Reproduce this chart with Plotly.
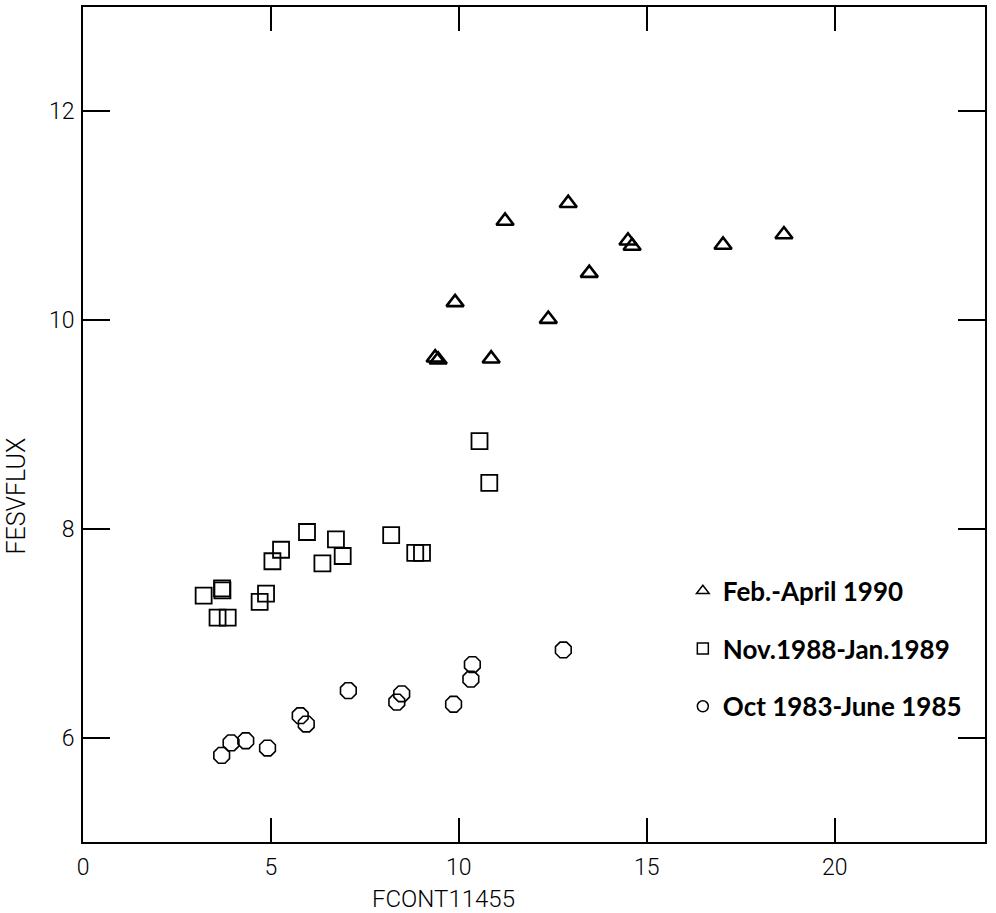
import plotly.graph_objects as go

# Feb.-April 1990 (triangles)
tri_x = [12.91, 11.23, 14.50, 14.61, 17.03, 18.65, 13.47, 9.90, 12.38, 9.37, 9.45, 10.86]
tri_y = [11.12, 10.95, 10.76, 10.71, 10.72, 10.82, 10.45, 10.17, 10.01, 9.64, 9.62, 9.63]

# Nov.1988-Jan.1989 (squares)
sq_x = [5.96, 6.73, 8.20, 5.27, 5.04, 6.91, 6.37, 8.84, 9.02, 3.21, 3.70, 3.71,
        4.87, 4.70, 3.58, 3.85, 10.55, 10.81]
sq_y = [7.97, 7.90, 7.94, 7.80, 7.69, 7.74, 7.67, 7.77, 7.77, 7.36, 7.43, 7.41,
        7.38, 7.30, 7.15, 7.15, 8.84, 8.44]

# Oct 1983-June 1985 (circles)
ci_x = [10.36, 10.32, 7.06, 8.48, 8.35, 9.86, 5.78, 5.94, 3.94, 4.33, 4.91, 3.69, 12.78]
ci_y = [6.70, 6.56, 6.45, 6.42, 6.34, 6.32, 6.21, 6.13, 5.95, 5.97, 5.90, 5.83, 6.84]

labels = ["Feb.-April 1990", "Nov.1988-Jan.1989", "Oct 1983-June 1985"]
x_ticks = [0, 5, 10, 15, 20]
y_ticks = [6, 8, 10, 12]
x_title = "FCONT11455"
y_title = "FESVFLUX"

fig = go.Figure()

fig.add_trace(go.Scatter(x=tri_x, y=tri_y, mode="markers", showlegend=False,
                         marker=dict(symbol="triangle-up-open", size=15, color="black",
                                     line=dict(width=2.6, color="black"))))
fig.add_trace(go.Scatter(x=sq_x, y=sq_y, mode="markers", showlegend=False,
                         marker=dict(symbol="square-open", size=16, color="black",
                                     line=dict(width=1.8, color="black"))))
fig.add_trace(go.Scatter(x=ci_x, y=ci_y, mode="markers", showlegend=False,
                         marker=dict(symbol="octagon-open", size=17, color="black",
                                     line=dict(width=1.6, color="black"))))

# legend entries
for name, sym in zip(labels, ["triangle-up-open", "square-open", "circle-open"]):
    fig.add_trace(go.Scatter(x=[None], y=[None], mode="markers", name=name,
                             legendgroup=name,
                             marker=dict(symbol=sym, size=11, color="black",
                                         line=dict(width=1.5, color="black"))))

tick_font = dict(family="Roboto", size=23, color="black", weight=300)

fig.update_layout(
    width=996, height=913,
    margin=dict(l=83, r=11, t=5, b=71),
    paper_bgcolor="white", plot_bgcolor="white",
    showlegend=True,
    legend=dict(x=0.665, y=0.329, xanchor="left", yanchor="top",
                bgcolor="rgba(0,0,0,0)", borderwidth=0,
                tracegroupgap=21,
                font=dict(family="Lato", size=26, color="black", weight=700)),
    xaxis=dict(range=[0, 24], tickvals=x_ticks, ticktext=[str(v) for v in x_ticks],
               ticks="inside", ticklen=24, tickwidth=1.5, tickcolor="black",
               showline=True, linewidth=2, linecolor="black", mirror="ticks",
               showgrid=False, zeroline=False, tickfont=tick_font,
               ticklabelstandoff=3),
    yaxis=dict(range=[5, 13], tickvals=y_ticks, ticktext=[str(v) for v in y_ticks],
               ticks="inside", ticklen=27, tickwidth=1.5, tickcolor="black",
               showline=True, linewidth=2, linecolor="black", mirror="ticks",
               showgrid=False, zeroline=False, tickfont=tick_font,
               ticklabelstandoff=2),
    annotations=[
        dict(text=x_title, xref="x", yref="paper", x=9.6, y=-0.068,
             xanchor="center", yanchor="middle", showarrow=False,
             font=dict(family="Roboto", size=24, color="black", weight=300)),
        dict(text=y_title, xref="paper", yref="paper", x=-0.074, y=0.414,
             xanchor="center", yanchor="middle", showarrow=False, textangle=-90,
             font=dict(family="Roboto", size=25, color="black", weight=300)),
    ],
)

fig.write_html("out.html")
